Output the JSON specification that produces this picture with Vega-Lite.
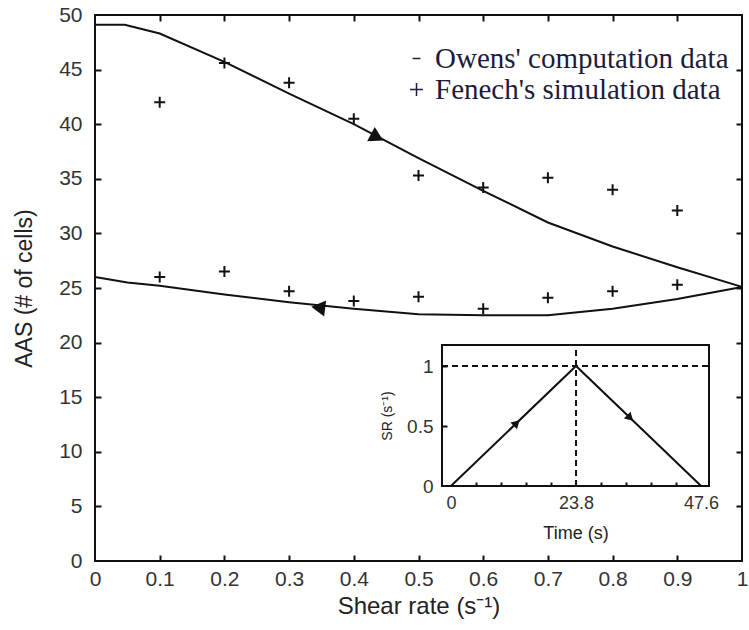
{
  "$schema": "https://vega.github.io/schema/vega-lite/v6.json",
  "width": 647,
  "height": 546,
  "autosize": {"type": "none"},
  "padding": {"left": 95, "top": 15, "right": 7, "bottom": 69},
  "background": "white",
  "config": {
    "view": {"stroke": "#111111", "strokeWidth": 2},
    "axis": {
      "grid": false,
      "domain": false,
      "tickColor": "#111111",
      "tickWidth": 2,
      "labelFont": "Liberation Sans",
      "titleFont": "Liberation Sans",
      "labelColor": "#333333",
      "titleColor": "#222222",
      "titleFontWeight": "normal"
    }
  },
  "datasets": {
    "owens": [
      {"seq": 1, "shear": 0, "aas": 49.1},
      {"seq": 2, "shear": 0.046, "aas": 49.1},
      {"seq": 3, "shear": 0.1, "aas": 48.3},
      {"seq": 4, "shear": 0.2, "aas": 45.7},
      {"seq": 5, "shear": 0.3, "aas": 42.8},
      {"seq": 6, "shear": 0.4, "aas": 40.0},
      {"seq": 7, "shear": 0.5, "aas": 36.9},
      {"seq": 8, "shear": 0.6, "aas": 33.9},
      {"seq": 9, "shear": 0.7, "aas": 31.0},
      {"seq": 10, "shear": 0.8, "aas": 28.8},
      {"seq": 11, "shear": 0.9, "aas": 26.9},
      {"seq": 12, "shear": 1.0, "aas": 25.1},
      {"seq": 13, "shear": 0.9, "aas": 24.0},
      {"seq": 14, "shear": 0.8, "aas": 23.1},
      {"seq": 15, "shear": 0.7, "aas": 22.5},
      {"seq": 16, "shear": 0.6, "aas": 22.5},
      {"seq": 17, "shear": 0.5, "aas": 22.6},
      {"seq": 18, "shear": 0.4, "aas": 23.1},
      {"seq": 19, "shear": 0.3, "aas": 23.7},
      {"seq": 20, "shear": 0.2, "aas": 24.4},
      {"seq": 21, "shear": 0.1, "aas": 25.2},
      {"seq": 22, "shear": 0.05, "aas": 25.5},
      {"seq": 23, "shear": 0, "aas": 26.0}
    ],
    "fenech": [
      {"series": "Fenech's simulation data", "shear": 0.1, "aas": 42.0},
      {"series": "Fenech's simulation data", "shear": 0.2, "aas": 45.6},
      {"series": "Fenech's simulation data", "shear": 0.3, "aas": 43.8},
      {"series": "Fenech's simulation data", "shear": 0.4, "aas": 40.5},
      {"series": "Fenech's simulation data", "shear": 0.5, "aas": 35.3},
      {"series": "Fenech's simulation data", "shear": 0.6, "aas": 34.2},
      {"series": "Fenech's simulation data", "shear": 0.7, "aas": 35.1},
      {"series": "Fenech's simulation data", "shear": 0.8, "aas": 34.0},
      {"series": "Fenech's simulation data", "shear": 0.9, "aas": 32.1},
      {"series": "Fenech's simulation data", "shear": 0.1, "aas": 26.0},
      {"series": "Fenech's simulation data", "shear": 0.2, "aas": 26.5},
      {"series": "Fenech's simulation data", "shear": 0.3, "aas": 24.7},
      {"series": "Fenech's simulation data", "shear": 0.4, "aas": 23.8},
      {"series": "Fenech's simulation data", "shear": 0.5, "aas": 24.2},
      {"series": "Fenech's simulation data", "shear": 0.6, "aas": 23.1},
      {"series": "Fenech's simulation data", "shear": 0.7, "aas": 24.1},
      {"series": "Fenech's simulation data", "shear": 0.8, "aas": 24.7},
      {"series": "Fenech's simulation data", "shear": 0.9, "aas": 25.3}
    ],
    "arrows": [
      {"leg": "up", "shear": 0.436, "aas": 38.8},
      {"leg": "down", "shear": 0.345, "aas": 23.2}
    ],
    "profile": [
      {"time": 0, "sr": 0},
      {"time": 23.8, "sr": 1},
      {"time": 47.6, "sr": 0}
    ],
    "profile_arrows": [
      {"leg": "up", "time": 12.5, "sr": 0.525},
      {"leg": "down", "time": 34.1, "sr": 0.567}
    ],
    "inset_ref": [
      {"time": 23.8, "sr": 1}
    ]
  },
  "resolve": {
    "scale": {"x": "independent", "y": "independent", "shape": "independent"},
    "axis": {"x": "independent", "y": "independent"}
  },
  "layer": [
    {
      "data": {"name": "owens"},
      "mark": {"type": "line", "color": "#111111", "strokeWidth": 2},
      "encoding": {
        "x": {
          "field": "shear", "type": "quantitative",
          "scale": {"domain": [0, 1], "nice": false, "zero": false},
          "axis": {
            "orient": "bottom",
            "values": [0, 0.1, 0.2, 0.3, 0.4, 0.5, 0.6, 0.7, 0.8, 0.9, 1],
            "format": "~g",
            "ticks": false,
            "labelFontSize": 21,
            "labelPadding": 7,
            "labelFlush": false,
            "title": "Shear rate (s⁻¹)",
            "titleFontSize": 24,
            "titlePadding": 5
          }
        },
        "y": {
          "field": "aas", "type": "quantitative",
          "scale": {"domain": [0, 50], "nice": false, "zero": false},
          "axis": {
            "orient": "left",
            "values": [0, 5, 10, 15, 20, 25, 30, 35, 40, 45, 50],
            "ticks": false,
            "labelFontSize": 21,
            "labelPadding": 13,
            "labelFlush": false,
            "title": "AAS (# of cells)",
            "titleFontSize": 23,
            "titlePadding": 22
          }
        },
        "order": {"field": "seq", "type": "quantitative"}
      }
    },
    {
      "data": {"name": "fenech"},
      "mark": {"type": "point", "filled": false, "strokeWidth": 2, "size": 121, "color": "#111111", "opacity": 1},
      "encoding": {
        "x": {
          "field": "shear", "type": "quantitative",
          "scale": {"domain": [0, 1], "nice": false, "zero": false},
          "axis": {"orient": "top", "offset": -546, "values": [0.1, 0.2, 0.3, 0.4, 0.5, 0.6, 0.7, 0.8, 0.9], "labels": false, "tickSize": 6, "title": null, "zindex": 1}
        },
        "y": {
          "field": "aas", "type": "quantitative",
          "scale": {"domain": [0, 50], "nice": false, "zero": false},
          "axis": {"orient": "right", "offset": -647, "values": [5, 10, 15, 20, 25, 30, 35, 40, 45], "labels": false, "tickSize": 6, "title": null, "zindex": 1}
        },
        "shape": {
          "field": "series", "type": "nominal",
          "scale": {
            "domain": ["Owens' computation data", "Fenech's simulation data"],
            "range": ["M-0.6,0H0.6", "M-1,0H1M0,-1V1"]
          },
          "legend": {
            "title": null,
            "orient": "none",
            "legendX": 307,
            "legendY": 29,
            "padding": 0,
            "labelFont": "Liberation Serif",
            "labelFontSize": 29,
            "labelColor": "#1c1c3c",
            "labelLimit": 400,
            "labelOffset": 4,
            "rowPadding": 1,
            "symbolSize": 169,
            "symbolStrokeWidth": 1.5,
            "symbolStrokeColor": "#1c1c3c",
            "symbolFillColor": "transparent"
          }
        }
      }
    },
    {
      "data": {"name": "arrows"},
      "transform": [{"filter": "datum.leg == 'up'"}],
      "mark": {"type": "point", "shape": "triangle-right", "angle": 28, "filled": true, "size": 260, "color": "#111111", "opacity": 1},
      "encoding": {
        "x": {
          "field": "shear", "type": "quantitative",
          "scale": {"domain": [0, 1], "nice": false, "zero": false},
          "axis": {"orient": "bottom", "offset": -546, "values": [0.1, 0.2, 0.3, 0.4, 0.5, 0.6, 0.7, 0.8, 0.9], "labels": false, "tickSize": 6, "title": null, "zindex": 1}
        },
        "y": {
          "field": "aas", "type": "quantitative",
          "scale": {"domain": [0, 50], "nice": false, "zero": false},
          "axis": {"orient": "left", "offset": -647, "values": [5, 10, 15, 20, 25, 30, 35, 40, 45], "labels": false, "tickSize": 6, "title": null, "zindex": 1}
        }
      }
    },
    {
      "data": {"name": "arrows"},
      "transform": [{"filter": "datum.leg == 'down'"}],
      "mark": {"type": "point", "shape": "triangle-left", "angle": 7, "filled": true, "size": 260, "color": "#111111", "opacity": 1},
      "encoding": {
        "x": {"field": "shear", "type": "quantitative", "scale": {"domain": [0, 1], "nice": false, "zero": false}, "axis": null},
        "y": {"field": "aas", "type": "quantitative", "scale": {"domain": [0, 50], "nice": false, "zero": false}, "axis": null}
      }
    },
    {
      "data": {"values": [{}]},
      "mark": {"type": "rect", "fill": "white", "stroke": "#111111", "strokeWidth": 2},
      "encoding": {
        "x": {"datum": -1.7, "type": "quantitative", "scale": {"domain": [-1.7, 49.1], "range": [347, 614], "nice": false, "zero": false}, "axis": null},
        "x2": {"datum": 49.1},
        "y": {"datum": 0, "type": "quantitative", "scale": {"domain": [0, 1.175], "range": [471, 330], "nice": false, "zero": false}, "axis": null},
        "y2": {"datum": 1.175}
      }
    },
    {
      "data": {"name": "inset_ref"},
      "mark": {"type": "rule", "color": "#111111", "strokeWidth": 2, "strokeDash": [6, 4]},
      "encoding": {
        "x": {"datum": -1.7, "type": "quantitative", "scale": {"domain": [-1.7, 49.1], "range": [347, 614], "nice": false, "zero": false}, "axis": null},
        "x2": {"datum": 49.1},
        "y": {"field": "sr", "type": "quantitative", "scale": {"domain": [0, 1.175], "range": [471, 330], "nice": false, "zero": false}, "axis": null}
      }
    },
    {
      "data": {"name": "inset_ref"},
      "mark": {"type": "rule", "color": "#111111", "strokeWidth": 2, "strokeDash": [6, 4]},
      "encoding": {
        "x": {"field": "time", "type": "quantitative", "scale": {"domain": [-1.7, 49.1], "range": [347, 614], "nice": false, "zero": false}, "axis": null},
        "y": {"datum": 0, "type": "quantitative", "scale": {"domain": [0, 1.175], "range": [471, 330], "nice": false, "zero": false}, "axis": null},
        "y2": {"datum": 1.175}
      }
    },
    {
      "data": {"name": "profile"},
      "mark": {"type": "line", "color": "#111111", "strokeWidth": 2},
      "encoding": {
        "x": {
          "field": "time", "type": "quantitative",
          "scale": {"domain": [-1.7, 49.1], "range": [347, 614], "nice": false, "zero": false},
          "axis": {
            "orient": "bottom",
            "offset": -75,
            "values": [0, 23.8, 47.6],
            "format": ".1~f",
            "ticks": false,
            "labelFontSize": 18,
            "labelPadding": 8,
            "labelFlush": false,
            "title": "Time (s)",
            "titleFontSize": 18,
            "titlePadding": 12,
            "zindex": 1
          }
        },
        "y": {
          "field": "sr", "type": "quantitative",
          "scale": {"domain": [0, 1.175], "range": [471, 330], "nice": false, "zero": false},
          "axis": {
            "orient": "left",
            "offset": -347,
            "values": [0, 0.5, 1],
            "format": "~g",
            "ticks": false,
            "labelFontSize": 19,
            "labelPadding": 9,
            "labelFlush": false,
            "title": "SR (s⁻¹)",
            "titleFontSize": 14,
            "titlePadding": 12,
            "zindex": 1
          }
        }
      }
    },
    {
      "data": {"name": "profile_arrows"},
      "transform": [{"filter": "datum.leg == 'up'"}],
      "mark": {"type": "point", "shape": "triangle-right", "angle": -44, "filled": true, "size": 90, "color": "#111111", "opacity": 1},
      "encoding": {
        "x": {
          "field": "time", "type": "quantitative",
          "scale": {"domain": [-1.7, 49.1], "range": [347, 614], "nice": false, "zero": false},
          "axis": {"orient": "top", "offset": -471, "values": [4.76, 9.52, 14.28, 19.04, 28.56, 33.32, 38.08, 42.84], "labels": false, "tickSize": 4, "title": null, "zindex": 1}
        },
        "y": {
          "field": "sr", "type": "quantitative",
          "scale": {"domain": [0, 1.175], "range": [471, 330], "nice": false, "zero": false},
          "axis": {"orient": "right", "offset": -300, "values": [0.5, 1], "labels": false, "tickSize": 5, "title": null, "zindex": 1}
        }
      }
    },
    {
      "data": {"name": "profile_arrows"},
      "transform": [{"filter": "datum.leg == 'down'"}],
      "mark": {"type": "point", "shape": "triangle-right", "angle": 44, "filled": true, "size": 90, "color": "#111111", "opacity": 1},
      "encoding": {
        "x": {"field": "time", "type": "quantitative", "scale": {"domain": [-1.7, 49.1], "range": [347, 614], "nice": false, "zero": false}, "axis": null},
        "y": {"field": "sr", "type": "quantitative", "scale": {"domain": [0, 1.175], "range": [471, 330], "nice": false, "zero": false}, "axis": null}
      }
    }
  ]
}
